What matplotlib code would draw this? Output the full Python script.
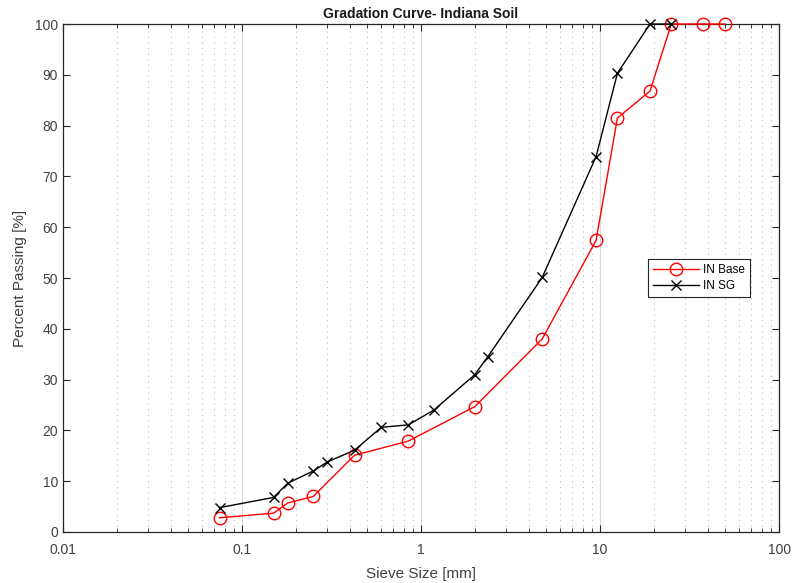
import matplotlib
matplotlib.use("Agg")
from matplotlib import pyplot as plt
from matplotlib.ticker import LogLocator, NullFormatter
import numpy as np

plt.rcParams['font.family'] = ['Liberation Sans', 'DejaVu Sans']

# sieve sizes [mm] and percent passing
base_sizes = [0.075, 0.15, 0.18, 0.25, 0.425, 0.85, 2.0, 4.75, 9.5, 12.5, 19, 25, 37.5, 50]
base_pass = [2.8, 3.7, 5.7, 7.0, 15.1, 17.9, 24.7, 38.0, 57.4, 81.5, 86.8, 100, 100, 100]

sg_sizes = [0.075, 0.15, 0.18, 0.25, 0.30, 0.425, 0.6, 0.85, 1.18, 2.0, 2.36, 4.75, 9.5, 12.5, 19, 25]
sg_pass = [4.8, 6.8, 9.6, 12.0, 13.8, 16.1, 20.6, 21.1, 24.0, 31.0, 34.5, 50.1, 73.9, 90.3, 100, 100]

fig = plt.figure(figsize=(7.95, 5.83), dpi=100)
ax = fig.add_axes([0.0792, 0.0875, 0.9008, 0.8713])

ax.semilogx(base_sizes, base_pass, '-o', color='r', lw=1.0, ms=9, mfc='none', mew=1.0,
            label='IN Base', clip_on=False, zorder=3)
ax.semilogx(sg_sizes, sg_pass, '-x', color='k', lw=1.0, ms=7, mew=1.0,
            label='IN SG', clip_on=False, zorder=3)

ax.set_xlim(0.01, 100)
ax.set_ylim(0, 100)
ax.set_xticks([0.01, 0.1, 1, 10, 100])
ax.set_xticklabels(['0.01', '0.1', '1', '10', '100'])
ax.xaxis.set_minor_locator(LogLocator(base=10, subs=np.arange(2, 10)))
ax.xaxis.set_minor_formatter(NullFormatter())
ax.set_yticks(np.arange(0, 101, 10))

ax.grid(True, which='major', axis='x', color='#d9d9d9', lw=0.8, ls='-')
ax.grid(True, which='minor', axis='x', color='#bdbdbd', lw=0.8, ls=(0, (1, 4)))

ax.tick_params(which='both', direction='in', top=True, right=True, colors='#262626',
               labelcolor='#404040', labelsize=10)
ax.tick_params(axis='x', which='major', pad=8)
ax.tick_params(which='major', length=5, width=0.8)
ax.tick_params(which='minor', length=3, width=0.6)
for s in ax.spines.values():
    s.set_color('#262626')
    s.set_linewidth(0.9)

ax.set_title('Gradation Curve- Indiana Soil', fontsize=10, fontweight='bold', color='#1a1a1a', pad=4)
ax.set_xlabel('Sieve Size [mm]', fontsize=11, color='#404040', labelpad=7)
ax.set_ylabel('Percent Passing [%]', fontsize=11, color='#404040', labelpad=6)

leg = ax.legend(loc='center right', bbox_to_anchor=(0.96, 0.5), fontsize=8.5, frameon=True,
                fancybox=False, edgecolor='#262626', framealpha=1, borderpad=0.45,
                handlelength=3.9, handletextpad=0.35, labelspacing=0.35, borderaxespad=0)
leg.get_frame().set_linewidth(0.8)

plt.savefig("out.png", dpi=100)
